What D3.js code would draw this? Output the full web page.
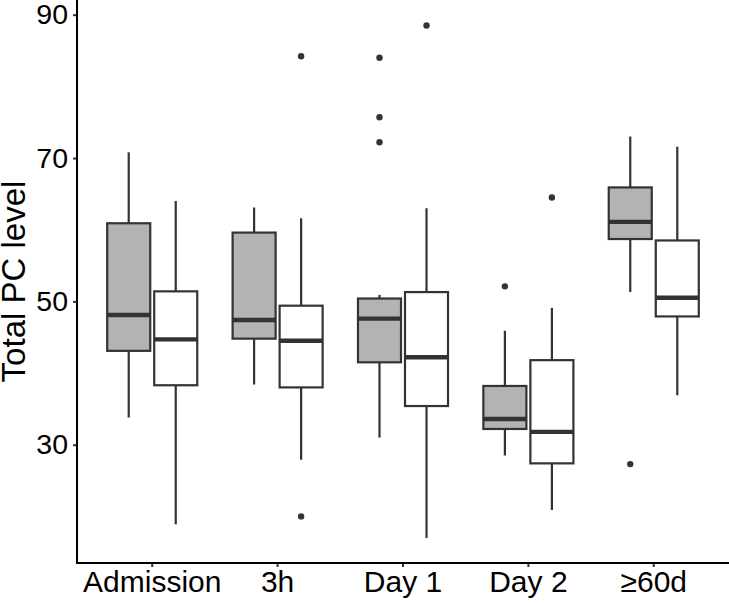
<!DOCTYPE html>
<html>
<head>
<meta charset="utf-8">
<script src="https://cdn.jsdelivr.net/npm/d3@7"></script>
<style>
  html, body { margin: 0; padding: 0; background: #fff; }
  svg { display: block; font-family: "Liberation Sans", Arial, sans-serif; }
</style>
</head>
<body>
<svg id="chart" width="729" height="603"></svg>
<script>
// ---- data ----
const categories = ["Admission", "3h", "Day 1", "Day 2", "\u226560d"];
const groups = ["grey", "white"];
const yTicks = [30, 50, 70, 90];
// [whiskerLow, q1, median, q3, whiskerHigh]
const greyStats = [
  [33.8, 43.1, 48.1, 60.9, 70.8],
  [38.4, 44.8, 47.4, 59.6, 63.1],
  [31.0, 41.5, 47.6, 50.4, 50.9],
  [28.5, 32.2, 33.6, 38.2, 45.9],
  [51.3, 58.7, 61.1, 65.9, 73.0]
];
const whiteStats = [
  [18.9, 38.3, 44.7, 51.4, 64.0],
  [27.9, 38.0, 44.5, 49.4, 61.6],
  [17.0, 35.4, 42.2, 51.3, 63.0],
  [20.9, 27.4, 31.8, 41.8, 49.1],
  [36.9, 47.9, 50.5, 58.5, 71.6]
];
const greyOutliers = [[], [], [84.0, 75.7, 72.2], [52.1], [27.3]];
const whiteOutliers = [[], [84.2, 20.0], [88.5], [64.5], []];

(function () {
// ---- layout ----
const svg = d3.select("#chart");
const mLeft = 77, mRight = 729, mTop = 0, mBottom = 563;

const x = d3.scaleBand().domain(categories).range([mLeft, mRight]).paddingInner(0).paddingOuter(0.1);
const step = x.step();
const sub = d3.scaleBand().domain(groups).range([-0.375 * step, 0.375 * step]);
const boxW = sub.bandwidth() * 0.915;
const y = d3.scaleLinear().domain([13.5, 92.05]).range([mBottom, mTop]);

const fills = { grey: "#b3b3b3", white: "#ffffff" };
const stroke = "#333333";

const rows = [];
categories.forEach((c, i) => {
  rows.push({ cat: c, g: "grey", s: greyStats[i], out: greyOutliers[i] });
  rows.push({ cat: c, g: "white", s: whiteStats[i], out: whiteOutliers[i] });
});

const plot = svg.append("g");
rows.forEach(r => {
  const cx = x(r.cat) + x.bandwidth() / 2 + sub(r.g) + sub.bandwidth() / 2;
  const [lo, q1, med, q3, hi] = r.s;
  const g = plot.append("g");
  g.append("line").attr("x1", cx).attr("x2", cx).attr("y1", y(q3)).attr("y2", y(hi))
    .attr("stroke", stroke).attr("stroke-width", 2.2);
  g.append("line").attr("x1", cx).attr("x2", cx).attr("y1", y(q1)).attr("y2", y(lo))
    .attr("stroke", stroke).attr("stroke-width", 2.2);
  g.append("rect").attr("x", cx - boxW / 2).attr("width", boxW)
    .attr("y", y(q3)).attr("height", y(q1) - y(q3))
    .attr("fill", fills[r.g]).attr("stroke", stroke).attr("stroke-width", 2.2);
  g.append("line").attr("x1", cx - boxW / 2).attr("x2", cx + boxW / 2)
    .attr("y1", y(med)).attr("y2", y(med))
    .attr("stroke", stroke).attr("stroke-width", 4.4);
  g.selectAll("circle").data(r.out).join("circle")
    .attr("cx", cx).attr("cy", d => y(d)).attr("r", 3.2).attr("fill", stroke);
});

// ---- axes ----
const yAxis = svg.append("g").attr("transform", `translate(${mLeft},0)`)
  .call(d3.axisLeft(y).tickValues(yTicks).tickSize(4).tickPadding(5).tickSizeOuter(0));
const xAxis = svg.append("g").attr("transform", `translate(0,${mBottom})`)
  .call(d3.axisBottom(x).tickSize(4).tickPadding(4).tickSizeOuter(0));

[yAxis, xAxis].forEach(a => {
  a.select(".domain").remove();
  a.selectAll(".tick line").attr("stroke", "#333").attr("stroke-width", 2);
  a.selectAll(".tick text").attr("fill", "#000")
    .style("font-family", "'Liberation Sans', Arial, sans-serif");
});
xAxis.selectAll(".tick text").attr("dy", "0.71em").style("font-size", "30px");
yAxis.selectAll(".tick text").style("font-size", "28.5px");

svg.append("line").attr("x1", mLeft).attr("x2", mLeft).attr("y1", 0).attr("y2", mBottom + 1)
  .attr("stroke", "#000").attr("stroke-width", 2);
svg.append("line").attr("x1", mLeft - 1).attr("x2", mRight).attr("y1", mBottom).attr("y2", mBottom)
  .attr("stroke", "#000").attr("stroke-width", 2);

svg.append("text")
  .attr("transform", `translate(25,${(mTop + mBottom) / 2}) rotate(-90)`)
  .attr("text-anchor", "middle")
  .style("font-size", "33px")
  .attr("fill", "#000")
  .text("Total PC level");
})();
</script>
</body>
</html>
